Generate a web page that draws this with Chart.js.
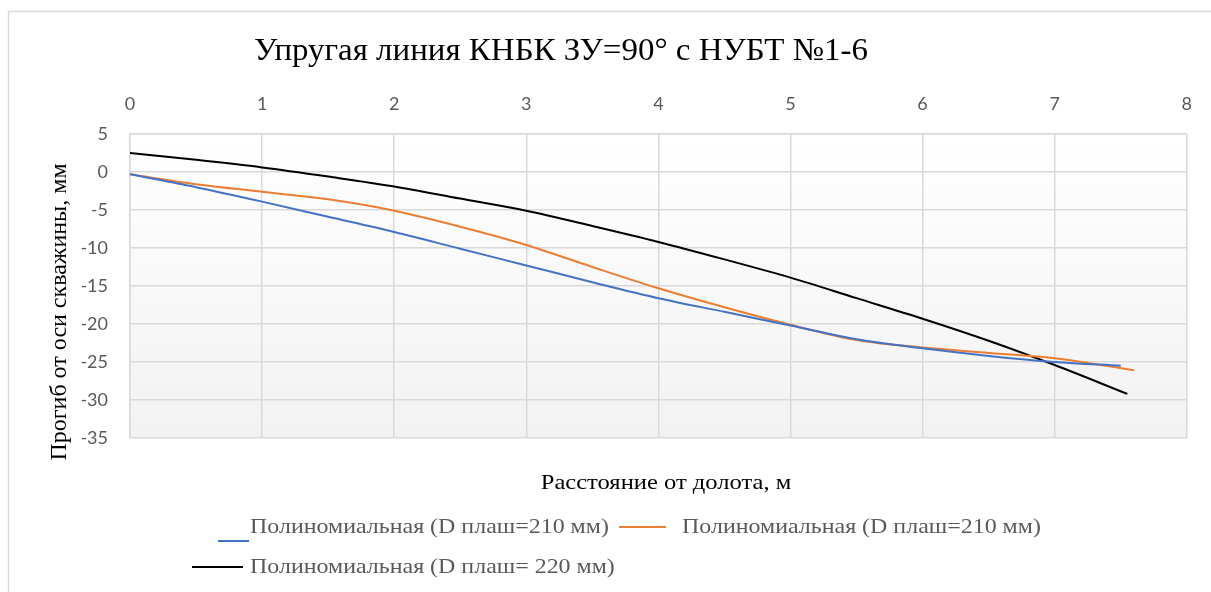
<!DOCTYPE html>
<html>
<head>
<meta charset="utf-8">
<script src="https://cdn.jsdelivr.net/npm/chart.js@4.4.1/dist/chart.umd.min.js"></script>
<style>
  html, body { margin: 0; padding: 0; background: #fff; }
  #wrap { width: 1211px; height: 592px; position: relative; }
</style>
</head>
<body>
<div id="wrap"><canvas id="chart" width="1211" height="592"></canvas></div>
<script>
// values
const blueX   = [0, 0.5, 1, 1.5, 2, 2.5, 3, 3.5, 4, 4.5, 5, 5.5, 6, 6.5, 7, 7.5];
const blueY   = [-0.3, -2.0, -3.9, -5.9, -7.9, -10.1, -12.3, -14.5, -16.6, -18.4, -20.2, -22.0, -23.2, -24.2, -25.0, -25.5];
const orangeX = [0, 0.5, 1, 1.5, 2, 2.5, 3, 3.5, 4, 4.5, 5, 5.5, 6, 6.5, 7, 7.6];
const orangeY = [-0.3, -1.6, -2.6, -3.6, -5.1, -7.2, -9.6, -12.5, -15.3, -17.8, -20.1, -22.1, -23.1, -23.8, -24.5, -26.1];
const blackX  = [0, 0.5, 1, 1.5, 2, 2.5, 3, 3.5, 4, 4.5, 5, 5.5, 6, 6.5, 7, 7.55];
const blackY  = [2.5, 1.6, 0.6, -0.6, -1.9, -3.5, -5.1, -7.1, -9.2, -11.5, -13.9, -16.6, -19.3, -22.2, -25.4, -29.2];

const labels = [
    'Полиномиальная (D плаш=210 мм)',
    'Полиномиальная (D плаш=210 мм)',
    'Полиномиальная (D плаш= 220 мм)'
];
const titleText = 'Упругая линия КНБК ЗУ=90° с НУБТ №1-6';
const xTitle = 'Расстояние от долота, м';
const yTitle = 'Прогиб от оси скважины, мм';

const serif = '"Liberation Serif", "DejaVu Serif", serif';
const sans = 'Lato, "Open Sans", sans-serif';

function pts(xs, ys) {
    return xs.map((x, i) => ({x: x, y: ys[i]}));
}

// text stretched sideways a bit, like in the picture
function wideText(c, txt, x, y, sx, align) {
    c.save();
    c.translate(x, y);
    c.scale(sx, 1);
    c.textAlign = align;
    c.fillText(txt, 0, 0);
    c.restore();
}

const decor = {
    id: 'decor',
    beforeDraw(chart) {
        const c = chart.ctx, a = chart.chartArea;
        c.save();
        c.fillStyle = '#fff';
        c.fillRect(0, 0, chart.width, chart.height);
        c.strokeStyle = '#d9d9d9';
        c.lineWidth = 1.5;
        c.strokeRect(8.5, 11.5, chart.width + 10, chart.height + 10);
        const g = c.createLinearGradient(0, a.top, 0, a.bottom);
        g.addColorStop(0, '#ffffff');
        g.addColorStop(1, '#f2f2f2');
        c.fillStyle = g;
        c.fillRect(a.left, a.top, a.right - a.left, a.bottom - a.top);
        c.restore();
    },
    afterDraw(chart) {
        const c = chart.ctx;
        c.save();
        c.fillStyle = '#000';
        c.textBaseline = 'middle';
        c.font = '32px ' + serif;
        wideText(c, titleText, 561, 52, 1.03, 'center');
        c.font = '21px ' + serif;
        wideText(c, xTitle, 666, 483, 1.17, 'center');
        c.translate(60, 312);
        c.rotate(-Math.PI / 2);
        c.font = '24px ' + serif;
        c.textAlign = 'center';
        c.fillText(yTitle, 0, 0);
        c.restore();

        // legend
        const ds = chart.data.datasets;
        const items = [
            {d: 0, x1: 218, x2: 249, ly: 541, tx: 250, ty: 527},
            {d: 1, x1: 619, x2: 666, ly: 527, tx: 682, ty: 527},
            {d: 2, x1: 192, x2: 243, ly: 567, tx: 250, ty: 567}
        ];
        c.save();
        c.font = '21px ' + serif;
        c.textBaseline = 'middle';
        items.forEach(it => {
            c.strokeStyle = ds[it.d].borderColor;
            c.lineWidth = 2;
            c.beginPath();
            c.moveTo(it.x1, it.ly);
            c.lineTo(it.x2, it.ly);
            c.stroke();
            c.fillStyle = '#595959';
            wideText(c, ds[it.d].label, it.tx, it.ty, 1.14, 'left');
        });
        c.restore();
    }
};

new Chart(document.getElementById('chart'), {
    type: 'scatter',
    data: {
        datasets: [
            {label: labels[0], data: pts(blueX, blueY), borderColor: '#4472c4'},
            {label: labels[1], data: pts(orangeX, orangeY), borderColor: '#ed7d31'},
            {label: labels[2], data: pts(blackX, blackY), borderColor: '#000000'}
        ].map(d => Object.assign(d, {
            showLine: true, pointRadius: 0, borderWidth: 2,
            cubicInterpolationMode: 'monotone', fill: false
        }))
    },
    options: {
        responsive: false,
        animation: false,
        layout: {padding: {left: 0, top: 80, right: 23, bottom: 154}},
        plugins: {legend: {display: false}, title: {display: false}, tooltip: {enabled: false}},
        scales: {
            x: {
                type: 'linear', position: 'top', min: 0, max: 8,
                ticks: {stepSize: 1, color: '#595959', font: {family: sans, size: 18}, padding: 19},
                grid: {color: '#d9d9d9', lineWidth: 1.5, drawTicks: false},
                border: {color: '#d9d9d9', width: 1.5},
                afterFit(s) { s.height = 54; }
            },
            y: {
                min: -35, max: 5,
                ticks: {stepSize: 5, color: '#595959', font: {family: sans, size: 18}, padding: 22},
                grid: {color: '#d9d9d9', lineWidth: 1.5, drawTicks: false},
                border: {color: '#d9d9d9', width: 1.5},
                afterFit(s) { s.width = 130; }
            }
        }
    },
    plugins: [decor]
});
</script>
</body>
</html>
